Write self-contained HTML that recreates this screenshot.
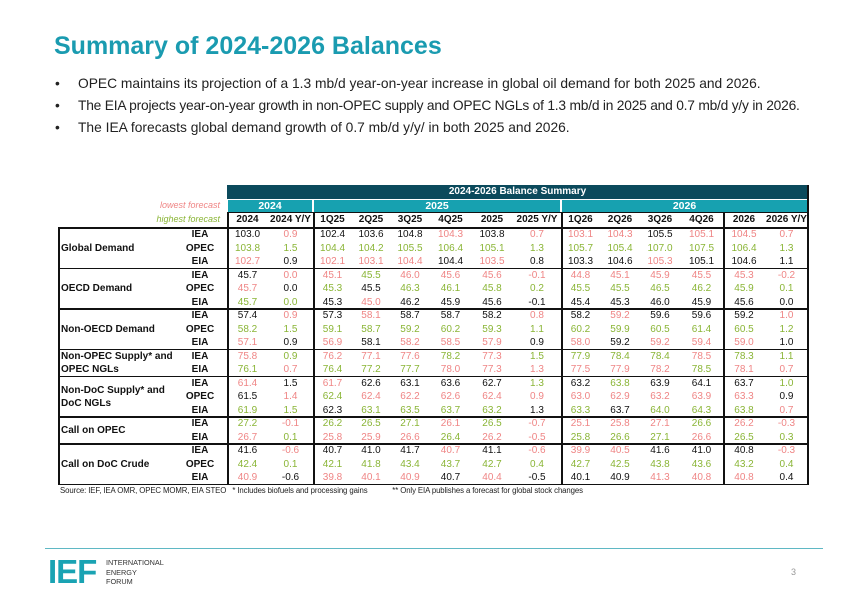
<!DOCTYPE html>
<html><head><meta charset="utf-8">
<style>
body{margin:0;width:867px;height:600px;background:#fff;position:relative;overflow:hidden;font-family:"Liberation Sans",sans-serif;}
.a{position:absolute;}
.c{position:absolute;font-size:10px;text-align:center;white-space:nowrap;line-height:13.5px;}
.r{color:#ef8585;} .g{color:#8ab536;} .k{color:#111;}
.ln{position:absolute;background:#111;}
.bul{position:absolute;left:55px;font-size:13.8px;color:#222;white-space:nowrap;}
.bul span{position:absolute;left:0;}
.bul b{font-weight:normal;position:absolute;left:23px;}
</style></head><body>
<div class="a" style="left:54px;top:32px;font-size:25px;font-weight:bold;color:#1a9bb0;">Summary of 2024-2026 Balances</div>
<div class="bul" style="top:76px"><span>•</span><b>OPEC maintains its projection of a 1.3 mb/d year-on-year increase in global oil demand for both 2025 and 2026.</b></div>
<div class="bul" style="top:98px"><span>•</span><b style="letter-spacing:-0.22px">The EIA projects year-on-year growth in non-OPEC supply and OPEC NGLs of 1.3 mb/d in 2025 and 0.7 mb/d y/y in 2026.</b></div>
<div class="bul" style="top:120px"><span>•</span><b>The IEA forecasts global demand growth of 0.7 mb/d y/y/ in both 2025 and 2026.</b></div>

<div id="tbl"></div>

<div class="a" style="left:60px;top:486px;font-size:7.8px;color:#222;white-space:pre;letter-spacing:-0.1px;">Source: IEF, IEA OMR, OPEC MOMR, EIA STEO   * Includes biofuels and processing gains            ** Only EIA publishes a forecast for global stock changes</div>

<div class="a" style="left:45px;top:548px;width:778px;height:1px;background:#5fb8c4;"></div>
<div class="a" style="left:48px;top:555px;font-size:33px;font-weight:bold;color:#1aa3b3;letter-spacing:-1px;line-height:33px;">IEF</div>
<div class="a" style="left:106px;top:558px;font-size:7.3px;line-height:9.5px;color:#333;">INTERNATIONAL<br>ENERGY<br>FORUM</div>
<div class="a" style="left:791px;top:567px;font-size:9px;color:#999;">3</div>

<script>
const columns=["2024","2024 Y/Y","1Q25","2Q25","3Q25","4Q25","2025","2025 Y/Y","1Q26","2Q26","3Q26","4Q26","2026","2026 Y/Y"];
const groups=[["Global Demand",3],["OECD Demand",3],["Non-OECD Demand",3],["Non-OPEC Supply* and<br>OPEC NGLs",2],["Non-DoC Supply* and<br>DoC NGLs",3],["Call on OPEC",2],["Call on DoC Crude",3]];
const sources=["IEA","OPEC","EIA","IEA","OPEC","EIA","IEA","OPEC","EIA","IEA","EIA","IEA","OPEC","EIA","IEA","EIA","IEA","OPEC","EIA"];
const values=[
"103.0k 0.9r 102.4k 103.6k 104.8k 104.3r 103.8k 0.7r 103.1r 104.3r 105.5k 105.1r 104.5r 0.7r",
"103.8g 1.5g 104.4g 104.2g 105.5g 106.4g 105.1g 1.3g 105.7g 105.4g 107.0g 107.5g 106.4g 1.3g",
"102.7r 0.9k 102.1r 103.1r 104.4r 104.4k 103.5r 0.8k 103.3k 104.6k 105.3r 105.1k 104.6k 1.1k",
"45.7k 0.0r 45.1r 45.5g 46.0r 45.6r 45.6r -0.1r 44.8r 45.1r 45.9r 45.5r 45.3r -0.2r",
"45.7r 0.0k 45.3g 45.5k 46.3g 46.1g 45.8g 0.2g 45.5g 45.5g 46.5g 46.2g 45.9g 0.1g",
"45.7g 0.0g 45.3k 45.0r 46.2k 45.9k 45.6k -0.1k 45.4k 45.3k 46.0k 45.9k 45.6k 0.0k",
"57.4k 0.9r 57.3k 58.1r 58.7k 58.7k 58.2k 0.8r 58.2k 59.2r 59.6k 59.6k 59.2k 1.0r",
"58.2g 1.5g 59.1g 58.7g 59.2g 60.2g 59.3g 1.1g 60.2g 59.9g 60.5g 61.4g 60.5g 1.2g",
"57.1r 0.9k 56.9r 58.1k 58.2r 58.5r 57.9r 0.9k 58.0r 59.2k 59.2r 59.4r 59.0r 1.0k",
"75.8r 0.9g 76.2r 77.1r 77.6r 78.2g 77.3r 1.5g 77.9g 78.4g 78.4g 78.5r 78.3g 1.1g",
"76.1g 0.7r 76.4g 77.2g 77.7g 78.0r 77.3r 1.3r 77.5r 77.9r 78.2r 78.5g 78.1r 0.7r",
"61.4r 1.5k 61.7r 62.6k 63.1k 63.6k 62.7k 1.3g 63.2k 63.8g 63.9k 64.1k 63.7k 1.0g",
"61.5k 1.4r 62.4g 62.4r 62.2r 62.6r 62.4r 0.9r 63.0r 62.9r 63.2r 63.9r 63.3r 0.9k",
"61.9g 1.5g 62.3k 63.1g 63.5g 63.7g 63.2g 1.3k 63.3g 63.7k 64.0g 64.3g 63.8g 0.7r",
"27.2g -0.1r 26.2g 26.5g 27.1g 26.1r 26.5g -0.7r 25.1r 25.8r 27.1r 26.6g 26.2r -0.3r",
"26.7r 0.1g 25.8r 25.9r 26.6r 26.4g 26.2r -0.5r 25.8g 26.6g 27.1g 26.6r 26.5g 0.3g",
"41.6k -0.6r 40.7k 41.0k 41.7k 40.7r 41.1k -0.6r 39.9r 40.5r 41.6k 41.0k 40.8k -0.3r",
"42.4g 0.1g 42.1g 41.8g 43.4g 43.7g 42.7g 0.4g 42.7g 42.5g 43.8g 43.6g 43.2g 0.4g",
"40.9r -0.6k 39.8r 40.1r 40.9r 40.7k 40.4r -0.5k 40.1k 40.9k 41.3r 40.8r 40.8r 0.4k"];

const T=document.getElementById('tbl');
const edges=[227,268,313,352,390,430,471,513,561,600,640,680,723,765,808];
const top0=228,rh=13.5;
function div(cls,style,html){const d=document.createElement('div');d.className=cls;d.style.cssText=style;if(html!==undefined)d.innerHTML=html;T.appendChild(d);return d;}
let d=div('a','left:227px;top:185px;width:581px;height:14px;background:#0b4a5c;color:#fff;font-weight:bold;font-size:10px;text-align:center;line-height:14px;','2024-2026 Balance Summary');

[["2024",227,313],["2025",313,561],["2026",561,808]].forEach(b=>{
 const e=div('a',`left:${b[1]+1}px;top:200px;width:${b[2]-b[1]-2}px;height:12px;background:#17a1b0;color:#fff;font-weight:bold;font-size:10.5px;text-align:center;line-height:12px;`,b[0]);
 
 
});
d=div('a','left:60px;top:200px;width:160px;text-align:right;font-style:italic;font-size:9px;color:#ef8585;','lowest forecast');

d=div('a','left:60px;top:214px;width:160px;text-align:right;font-style:italic;font-size:9px;color:#8ab536;','highest forecast');

columns.forEach((c,i)=>{
 const e=div('c',`left:${edges[i]}px;top:213px;width:${edges[i+1]-edges[i]}px;font-weight:bold;color:#111;`,c);
 
 
});
let r=0;
groups.forEach((g,gi)=>{
 const y=top0+r*rh;
 const e=div('a',`left:61px;top:${y}px;height:${g[1]*rh}px;display:flex;align-items:center;font-weight:bold;font-size:10px;color:#111;line-height:13px;`,g[0]);
 
 
 for(let k=0;k<g[1];k++){
  const yy=top0+(r+k)*rh;
  const s=div('c',`left:180px;top:${yy}px;width:40px;font-weight:bold;color:#111;`,sources[r+k]);
  
  
  values[r+k].split(' ').forEach((v,i)=>{
   const col=v.slice(-1),txt=v.slice(0,-1);
   const cell=div('c '+col,`left:${edges[i]}px;top:${yy}px;width:${edges[i+1]-edges[i]}px;`,txt);
   
   
  });
 }
 r+=g[1];
 const ln=div('ln',`left:58px;top:${top0+r*rh-1}px;width:751px;height:1.5px;`);
 
 
});
let ln=div('ln',`left:58px;top:${top0-1}px;width:751px;height:1.5px;`);

ln=div('ln',`left:227px;top:212px;width:581px;height:1px;`);

const bottom=top0+r*rh;
[[58,top0],[227,212],[313,212],[561,212],[723,212],[807,185]].forEach(v=>{
 const l=div('ln',`left:${v[0]}px;top:${v[1]}px;width:1.5px;height:${bottom-v[1]}px;`);
 
 
});
</script>
</body></html>
